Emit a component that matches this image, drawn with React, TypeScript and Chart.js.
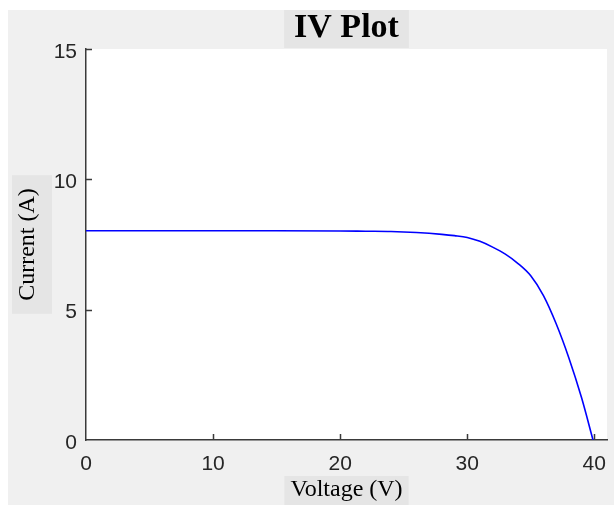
import React, { useEffect, useRef } from "react";
import { Chart, registerables } from "chart.js";

Chart.register(...registerables);

const TITLE = "IV Plot";
const X_LABEL = "Voltage (V)";
const Y_LABEL = "Current (A)";

const voltage = [0, 5, 10, 15, 20, 22, 24, 26, 28, 29, 30, 31, 32, 33, 34, 35, 36, 37, 38, 39, 39.9];
const current = [8.03, 8.03, 8.03, 8.03, 8.02, 8.01, 8.0, 7.96, 7.89, 7.84, 7.77, 7.62, 7.4, 7.13, 6.77, 6.3, 5.54, 4.46, 3.15, 1.62, 0];

const X_MIN = 0;
const X_MAX = 41;
const X_STEP = 10;
const Y_MIN = 0;
const Y_MAX = 15;
const Y_STEP = 5;

const SERIF = '"Liberation Serif", "Times New Roman", serif';
const SANS = '"Liberation Sans", Arial, sans-serif';
const BOX = "#e5e5e5";
const AXIS = "#3a3a3a";

const decor = {
  id: "matlabDecor",
  beforeDraw(chart: any) {
    const { ctx, chartArea: a } = chart;
    ctx.save();
    ctx.fillStyle = "#ffffff";
    ctx.fillRect(a.left, a.top, a.right - a.left, a.bottom - a.top);
    const cx = (a.left + a.right) / 2;
    const cy = (a.top + a.bottom) / 2;
    ctx.fillStyle = BOX;
    ctx.font = `bold 34px ${SERIF}`;
    const tw = ctx.measureText(TITLE).width;
    ctx.fillRect(cx - tw / 2 - 10, 0, tw + 20, a.top - 1);
    ctx.font = `24px ${SERIF}`;
    const xw = ctx.measureText(X_LABEL).width;
    ctx.fillRect(cx - xw / 2 - 6, a.bottom + 36, xw + 12, chart.height - a.bottom - 36);
    const yw = ctx.measureText(Y_LABEL).width;
    ctx.fillRect(4, cy - yw / 2 - 13, 40, yw + 26);
    ctx.restore();
  },
  afterDraw(chart: any) {
    const { ctx, chartArea: a } = chart;
    ctx.save();
    ctx.fillStyle = "#000000";
    ctx.font = `bold 34px ${SERIF}`;
    ctx.textAlign = "center";
    ctx.textBaseline = "middle";
    ctx.fillText(TITLE, (a.left + a.right) / 2, 18);
    ctx.strokeStyle = AXIS;
    ctx.lineWidth = 1.5;
    const xs = chart.scales.x;
    const ys = chart.scales.y;
    ctx.beginPath();
    for (const t of xs.ticks) {
      if (t.value === X_MIN) continue;
      const px = Math.round(xs.getPixelForValue(t.value)) + 0.5;
      ctx.moveTo(px, a.bottom);
      ctx.lineTo(px, a.bottom - 6);
    }
    for (const t of ys.ticks) {
      if (t.value === Y_MIN) continue;
      const py = Math.round(ys.getPixelForValue(t.value)) + 0.5;
      ctx.moveTo(a.left, py);
      ctx.lineTo(a.left + 6, py);
    }
    ctx.stroke();
    ctx.restore();
  },
};

export default function App() {
  const ref = useRef<HTMLCanvasElement | null>(null);
  useEffect(() => {
    if (!ref.current) return;
    const chart = new Chart(ref.current, {
      type: "line",
      data: {
        datasets: [
          {
            data: voltage.map((v, i) => ({ x: v, y: current[i] })),
            borderColor: "#0000ff",
            borderWidth: 1.6,
            pointRadius: 0,
            cubicInterpolationMode: "monotone",
            fill: false,
          },
        ],
      },
      options: {
        animation: false,
        responsive: false,
        layout: { padding: { top: 39, right: 7, left: 0, bottom: 0 } },
        plugins: {
          legend: { display: false },
          tooltip: { enabled: false },
          title: { display: false },
        },
        scales: {
          x: {
            type: "linear",
            min: X_MIN,
            max: X_MAX,
            grid: { display: false, drawTicks: false },
            border: { display: true, color: AXIS, width: 1.5 },
            ticks: {
              stepSize: X_STEP,
              includeBounds: false,
              padding: 12,
              color: "#262626",
              font: { family: SANS, size: 21 },
              maxRotation: 0,
            },
            title: {
              display: true,
              text: X_LABEL,
              color: "#000000",
              font: { family: SERIF, size: 24, lineHeight: 1.2 },
              padding: { top: 0, bottom: 1 },
            },
            afterFit: (s: any) => {
              s.height = 65;
              s.paddingLeft = 0;
              s.paddingRight = 0;
            },
          },
          y: {
            type: "linear",
            min: Y_MIN,
            max: Y_MAX,
            grid: { display: false, drawTicks: false },
            border: { display: true, color: AXIS, width: 1.5 },
            ticks: {
              stepSize: Y_STEP,
              padding: 9,
              labelOffset: 3,
              color: "#262626",
              font: { family: SANS, size: 21 },
            },
            title: {
              display: true,
              text: Y_LABEL,
              color: "#000000",
              font: { family: SERIF, size: 24, lineHeight: 1.2 },
              padding: { top: 5, bottom: 0 },
            },
            afterFit: (s: any) => {
              s.width = 78;
            },
          },
        },
      },
      plugins: [decor],
    } as any);
    return () => chart.destroy();
  }, []);
  return (
    <div
      style={{
        position: "fixed",
        left: 8,
        top: 10,
        width: 606,
        height: 495,
        background: "#f0f0f0",
      }}
    >
      <canvas ref={ref} width={606} height={495} style={{ display: "block" }} />
    </div>
  );
}
